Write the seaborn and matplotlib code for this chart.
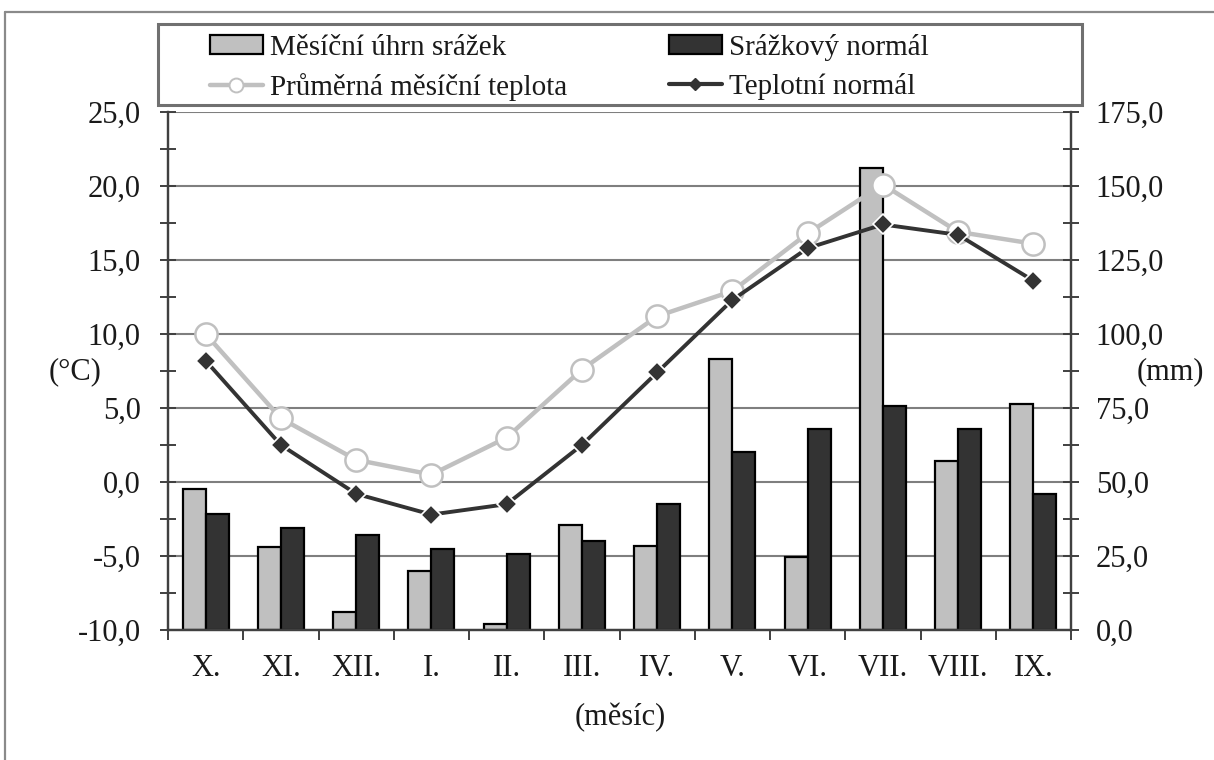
import numpy as np
import pandas as pd
import matplotlib
matplotlib.use("Agg")
import matplotlib.pyplot as plt
from matplotlib.patches import Patch, Rectangle
from matplotlib.lines import Line2D
from matplotlib.ticker import MultipleLocator, FuncFormatter
import seaborn as sns

# ---- data ----
months = ["X.", "XI.", "XII.", "I.", "II.", "III.", "IV.", "V.", "VI.", "VII.", "VIII.", "IX."]
precip_month = [47.6, 28.0, 6.2, 20.0, 2.0, 35.4, 28.3, 91.4, 24.8, 156.0, 57.0, 76.3]
precip_normal = [39.1, 34.3, 32.0, 27.3, 25.8, 29.9, 42.7, 60.2, 67.8, 75.7, 67.8, 45.8]
temp_month = [10.0, 4.3, 1.5, 0.5, 3.0, 7.6, 11.2, 12.9, 16.8, 20.1, 16.9, 16.1]
temp_normal = [8.2, 2.5, -0.8, -2.2, -1.5, 2.5, 7.4, 12.3, 15.8, 17.4, 16.7, 13.6]
series_names = ["Měsíční úhrn srážek", "Srážkový normál",
                "Průměrná měsíční teplota", "Teplotní normál"]

sns.set_theme(style="white")
plt.rcParams["font.family"] = ["Liberation Serif", "DejaVu Serif"]
plt.rcParams["text.color"] = "#1a1a1a"

W, H = 1214, 760
fig = plt.figure(figsize=(W / 100, H / 100), dpi=100)
fig.patch.set_facecolor("white")

def fx(px):
    return px / W

def fy(py):
    return 1 - py / H

ax = fig.add_axes([fx(168), fy(630), fx(1071) - fx(168), fy(112) - fy(630)])
ax2 = ax.twinx()
ax.set_zorder(2)
ax2.set_zorder(1)
ax.patch.set_visible(False)
ax2.patch.set_visible(True)
ax2.patch.set_facecolor("white")

light = "#c0c0c0"
dark = "#333333"

# bars (precipitation, right axis)
df = pd.DataFrame({
    "month": months * 2,
    "mm": precip_month + precip_normal,
    "series": [series_names[0]] * len(months) + [series_names[1]] * len(months),
})
sns.barplot(data=df, x="month", y="mm", hue="series", order=months,
            hue_order=series_names[:2], palette=[light, dark], width=0.61,
            edgecolor="black", linewidth=1.6, saturation=1, ax=ax2, legend=False,
            errorbar=None)

# lines (temperature, left axis)
xpos = np.arange(len(months))
sns.lineplot(x=xpos, y=temp_month, ax=ax, color=light, linewidth=3.2,
             marker="o", markersize=16, markerfacecolor="white",
             markeredgecolor=light, markeredgewidth=1.8, sort=False)
sns.lineplot(x=xpos, y=temp_normal, ax=ax, color=dark, linewidth=2.8,
             marker="D", markersize=10, markerfacecolor=dark,
             markeredgecolor="white", markeredgewidth=1.2, sort=False)

# axes limits
ax.set_ylim(-10, 25)
ax2.set_ylim(0, 175)
ax.set_xlim(-0.5, len(months) - 0.5)

fmt = FuncFormatter(lambda v, p: f"{v:.1f}".replace(".", ","))
ax.yaxis.set_major_locator(MultipleLocator(5))
ax.yaxis.set_minor_locator(MultipleLocator(2.5))
ax.yaxis.set_major_formatter(fmt)
ax2.yaxis.set_major_locator(MultipleLocator(25))
ax2.yaxis.set_minor_locator(MultipleLocator(12.5))
ax2.yaxis.set_major_formatter(fmt)

tick_col = "#404040"
ax.tick_params(axis="y", which="both", direction="inout", length=11.5, width=1.4,
               colors=tick_col, labelcolor="#1a1a1a", labelsize=22, pad=14, left=True)
ax2.tick_params(axis="y", which="both", direction="inout", length=11.5, width=1.4,
                colors=tick_col, labelcolor="#1a1a1a", labelsize=22, pad=12, right=True)

ax.set_xticks(xpos)
ax.set_xticklabels(months)
ax.set_xticks(np.arange(-0.5, len(months), 1), minor=True)
ax.tick_params(axis="x", which="major", length=0, labelsize=22, pad=17,
               labelcolor="#1a1a1a")
ax.tick_params(axis="x", which="minor", direction="out", length=7, width=1.4,
               colors=tick_col, bottom=True)

# gridlines behind bars
ax2.set_axisbelow(True)
ax2.yaxis.grid(True, which="major", color="#7f7f7f", linewidth=1.5)
ax2.xaxis.grid(False)
ax.grid(False)

for a in (ax, ax2):
    a.set_xlabel("")
    a.set_ylabel("")
    for s in a.spines.values():
        s.set_color(tick_col)
        s.set_linewidth(1.6)
    a.spines["top"].set_visible(False)

# axis titles
fig.text(fx(75), fy(372), "(°C)", ha="center", va="center", fontsize=22)
fig.text(fx(1170), fy(372), "(mm)", ha="center", va="center", fontsize=22)
fig.text(fx(620), fy(718), "(měsíc)", ha="center", va="center", fontsize=22)

# outer chart frame (cut at right/bottom edges)
fig.add_artist(Line2D([fx(5), fx(5)], [0, fy(12)], transform=fig.transFigure,
                      color="#8a8a8a", linewidth=1.6))
fig.add_artist(Line2D([fx(5), 1], [fy(12), fy(12)], transform=fig.transFigure,
                      color="#8a8a8a", linewidth=1.6))

# legend frame
fig.add_artist(Rectangle((fx(158), fy(105)), fx(1082) - fx(158), fy(24) - fy(105),
                         transform=fig.transFigure, facecolor="white",
                         edgecolor="#707070", linewidth=2.2, zorder=5))

handles = [
    Patch(facecolor=light, edgecolor="black", linewidth=1.6),
    Line2D([], [], color=light, linewidth=3.2, marker="o", markersize=10,
           markerfacecolor="white", markeredgecolor=light, markeredgewidth=1.4),
    Patch(facecolor=dark, edgecolor="black", linewidth=1.6),
    Line2D([], [], color=dark, linewidth=3, marker="D", markersize=6,
           markerfacecolor=dark, markeredgecolor=dark),
]
labels = [series_names[0], series_names[2], series_names[1], series_names[3]]
leg = fig.legend(handles, labels, loc="upper left",
                 bbox_to_anchor=(fx(210), fy(34)), ncol=2, frameon=False,
                 fontsize=21, handlelength=1.8, handleheight=0.6,
                 handletextpad=0.25, columnspacing=3.5, labelspacing=0.4,
                 borderpad=0, borderaxespad=0)
leg.set_zorder(6)

fig.savefig("out.png", dpi=100, facecolor="white")
